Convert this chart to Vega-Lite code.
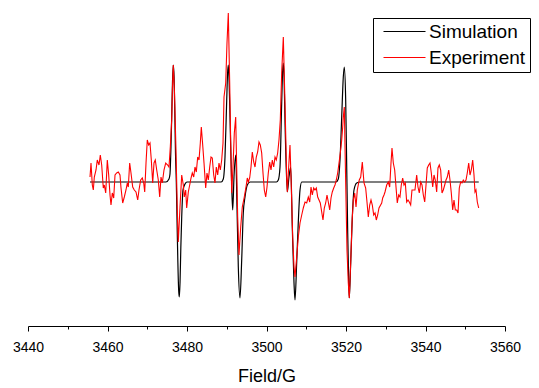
{
  "$schema": "https://vega.github.io/schema/vega-lite/v6.json",
  "autosize": "none",
  "width": 477,
  "height": 326,
  "padding": {"left": 28, "top": 0, "right": 34, "bottom": 62},
  "background": "white",
  "config": {
    "view": {"stroke": null},
    "font": "Liberation Sans",
    "axis": {"domainColor": "black", "tickColor": "black", "labelColor": "black", "titleColor": "black", "grid": false}
  },
  "datasets": {
    "sim": [
      {"field": 3455.6, "signal": 0}, {"field": 3474.7, "signal": 0}, {"field": 3475.47, "signal": 3}, {"field": 3475.72, "signal": 8},
      {"field": 3475.97, "signal": 35}, {"field": 3476.15, "signal": 65}, {"field": 3476.35, "signal": 100}, {"field": 3476.55, "signal": 117},
      {"field": 3476.75, "signal": 105}, {"field": 3476.95, "signal": 65}, {"field": 3477.1, "signal": 30}, {"field": 3477.31, "signal": 0},
      {"field": 3477.5, "signal": -40}, {"field": 3477.7, "signal": -80}, {"field": 3477.9, "signal": -108}, {"field": 3478.06, "signal": -115},
      {"field": 3478.25, "signal": -100}, {"field": 3478.45, "signal": -65}, {"field": 3478.67, "signal": -35}, {"field": 3478.99, "signal": -8},
      {"field": 3479.5, "signal": -2}, {"field": 3480.0, "signal": 0},
      {"field": 3488.6, "signal": 0}, {"field": 3489.13, "signal": 3}, {"field": 3489.56, "signal": 25}, {"field": 3489.99, "signal": 82},
      {"field": 3490.2, "signal": 108}, {"field": 3490.39, "signal": 117}, {"field": 3490.6, "signal": 100}, {"field": 3490.82, "signal": 65},
      {"field": 3491.25, "signal": -5}, {"field": 3491.5, "signal": -28}, {"field": 3491.82, "signal": 5}, {"field": 3492.25, "signal": 27},
      {"field": 3492.58, "signal": -25}, {"field": 3492.91, "signal": -85}, {"field": 3493.33, "signal": -116}, {"field": 3493.76, "signal": -78},
      {"field": 3494.16, "signal": -31}, {"field": 3494.59, "signal": -15}, {"field": 3495.17, "signal": -3}, {"field": 3495.85, "signal": 0},
      {"field": 3502.5, "signal": 0}, {"field": 3502.97, "signal": 2}, {"field": 3503.4, "signal": 15}, {"field": 3503.82, "signal": 79},
      {"field": 3504.05, "signal": 110}, {"field": 3504.23, "signal": 119}, {"field": 3504.42, "signal": 105}, {"field": 3504.65, "signal": 62},
      {"field": 3505.23, "signal": -10}, {"field": 3505.66, "signal": 5}, {"field": 3506.09, "signal": 15}, {"field": 3506.49, "signal": -45},
      {"field": 3506.92, "signal": -101}, {"field": 3507.17, "signal": -118}, {"field": 3507.6, "signal": -80}, {"field": 3508.0, "signal": -40},
      {"field": 3508.43, "signal": -8}, {"field": 3508.86, "signal": 0},
      {"field": 3517.5, "signal": 0}, {"field": 3518.06, "signal": 3}, {"field": 3518.49, "signal": 22}, {"field": 3518.92, "signal": 65},
      {"field": 3519.32, "signal": 105}, {"field": 3519.57, "signal": 115}, {"field": 3519.92, "signal": 82}, {"field": 3520.18, "signal": 15},
      {"field": 3520.43, "signal": -51}, {"field": 3520.68, "signal": -101}, {"field": 3520.83, "signal": -116}, {"field": 3521.18, "signal": -81},
      {"field": 3521.59, "signal": -35}, {"field": 3522.01, "signal": -8}, {"field": 3522.69, "signal": -1}, {"field": 3523.52, "signal": 0},
      {"field": 3553.4, "signal": 0}
    ],
    "exp": [
      {"field": 3455.6, "signal": 5}, {"field": 3455.85, "signal": 19}, {"field": 3456.18, "signal": -3}, {"field": 3456.43, "signal": -8},
      {"field": 3456.68, "signal": 5}, {"field": 3457.11, "signal": 12}, {"field": 3457.43, "signal": 22}, {"field": 3457.86, "signal": 17},
      {"field": 3458.19, "signal": 27}, {"field": 3458.54, "signal": 17}, {"field": 3458.94, "signal": -6}, {"field": 3459.19, "signal": -3},
      {"field": 3459.55, "signal": -11}, {"field": 3459.95, "signal": 22}, {"field": 3460.3, "signal": 7}, {"field": 3460.63, "signal": -13},
      {"field": 3460.88, "signal": -23}, {"field": 3461.21, "signal": -11}, {"field": 3461.56, "signal": -16}, {"field": 3461.89, "signal": 7},
      {"field": 3462.31, "signal": 9}, {"field": 3462.72, "signal": 10}, {"field": 3463.14, "signal": 7}, {"field": 3463.4, "signal": -6},
      {"field": 3463.82, "signal": -21}, {"field": 3464.23, "signal": -15}, {"field": 3464.65, "signal": -8}, {"field": 3464.98, "signal": -1},
      {"field": 3465.23, "signal": -5}, {"field": 3465.58, "signal": 19}, {"field": 3465.91, "signal": 9}, {"field": 3466.34, "signal": -5},
      {"field": 3466.74, "signal": -8}, {"field": 3467.17, "signal": -10}, {"field": 3467.6, "signal": -18}, {"field": 3467.92, "signal": -8},
      {"field": 3468.35, "signal": 2}, {"field": 3468.75, "signal": 4}, {"field": 3469.11, "signal": -1}, {"field": 3469.36, "signal": -10},
      {"field": 3469.69, "signal": 19}, {"field": 3470.01, "signal": 42}, {"field": 3470.36, "signal": 37}, {"field": 3470.69, "signal": 39},
      {"field": 3471.02, "signal": 22}, {"field": 3471.37, "signal": -1}, {"field": 3471.7, "signal": 19}, {"field": 3472.02, "signal": 22},
      {"field": 3472.38, "signal": 12}, {"field": 3472.78, "signal": 2}, {"field": 3473.13, "signal": -15}, {"field": 3473.46, "signal": 5},
      {"field": 3473.79, "signal": -1}, {"field": 3474.21, "signal": 12}, {"field": 3474.64, "signal": 19}, {"field": 3475.14, "signal": 17},
      {"field": 3475.47, "signal": 15}, {"field": 3475.8, "signal": 35}, {"field": 3476.15, "signal": 62}, {"field": 3476.35, "signal": 95},
      {"field": 3476.55, "signal": 117}, {"field": 3476.85, "signal": 90}, {"field": 3477.23, "signal": 32}, {"field": 3477.56, "signal": -28},
      {"field": 3477.81, "signal": -60}, {"field": 3478.24, "signal": -25}, {"field": 3478.67, "signal": 7}, {"field": 3479.07, "signal": -3},
      {"field": 3479.32, "signal": -15}, {"field": 3479.67, "signal": -8}, {"field": 3479.92, "signal": -26}, {"field": 3480.33, "signal": -10},
      {"field": 3480.68, "signal": -3}, {"field": 3481.01, "signal": 4}, {"field": 3481.33, "signal": 9}, {"field": 3481.69, "signal": 5},
      {"field": 3482.01, "signal": 15}, {"field": 3482.34, "signal": 10}, {"field": 3482.69, "signal": 25}, {"field": 3483.02, "signal": 22},
      {"field": 3483.35, "signal": 39}, {"field": 3483.6, "signal": 55}, {"field": 3483.95, "signal": 37}, {"field": 3484.28, "signal": 19},
      {"field": 3484.7, "signal": -6}, {"field": 3485.03, "signal": 9}, {"field": 3485.36, "signal": 2}, {"field": 3485.71, "signal": 15},
      {"field": 3486.04, "signal": 25}, {"field": 3486.36, "signal": 24}, {"field": 3486.72, "signal": 7}, {"field": 3487.04, "signal": -1},
      {"field": 3487.37, "signal": 15}, {"field": 3487.72, "signal": 7}, {"field": 3488.05, "signal": 19}, {"field": 3488.38, "signal": 12},
      {"field": 3488.73, "signal": 22}, {"field": 3489.06, "signal": 39}, {"field": 3489.31, "signal": 85}, {"field": 3489.74, "signal": 99},
      {"field": 3490.06, "signal": 139}, {"field": 3490.39, "signal": 169}, {"field": 3490.74, "signal": 99}, {"field": 3491.07, "signal": 22},
      {"field": 3491.24, "signal": -11}, {"field": 3491.57, "signal": 15}, {"field": 3491.9, "signal": 49}, {"field": 3492.25, "signal": 65},
      {"field": 3492.5, "signal": 15}, {"field": 3492.75, "signal": -35}, {"field": 3493.08, "signal": -73}, {"field": 3493.51, "signal": -45},
      {"field": 3493.91, "signal": -25}, {"field": 3494.41, "signal": -15}, {"field": 3494.84, "signal": -5}, {"field": 3495.17, "signal": 4},
      {"field": 3495.42, "signal": 0}, {"field": 3495.77, "signal": 4}, {"field": 3496.1, "signal": 15}, {"field": 3496.43, "signal": 30},
      {"field": 3496.78, "signal": 20}, {"field": 3497.11, "signal": 15}, {"field": 3497.43, "signal": 25}, {"field": 3497.78, "signal": 30},
      {"field": 3498.11, "signal": 40}, {"field": 3498.44, "signal": 37}, {"field": 3498.79, "signal": 29}, {"field": 3499.12, "signal": 9},
      {"field": 3499.45, "signal": -8}, {"field": 3499.8, "signal": -15}, {"field": 3500.13, "signal": -5}, {"field": 3500.45, "signal": 9},
      {"field": 3500.8, "signal": 20}, {"field": 3501.13, "signal": 12}, {"field": 3501.46, "signal": 22}, {"field": 3501.81, "signal": 15},
      {"field": 3502.14, "signal": 25}, {"field": 3502.46, "signal": 22}, {"field": 3502.81, "signal": 29}, {"field": 3503.14, "signal": 42},
      {"field": 3503.47, "signal": 62}, {"field": 3503.82, "signal": 109}, {"field": 3504.23, "signal": 145}, {"field": 3504.65, "signal": 79},
      {"field": 3505.08, "signal": 5}, {"field": 3505.23, "signal": -10}, {"field": 3505.58, "signal": 15}, {"field": 3505.91, "signal": 37},
      {"field": 3506.24, "signal": -5}, {"field": 3506.59, "signal": -55}, {"field": 3506.92, "signal": -85}, {"field": 3507.17, "signal": -95},
      {"field": 3507.6, "signal": -75}, {"field": 3508.0, "signal": -55}, {"field": 3508.43, "signal": -41}, {"field": 3508.86, "signal": -33},
      {"field": 3509.26, "signal": -26}, {"field": 3509.69, "signal": -20}, {"field": 3510.11, "signal": -21}, {"field": 3510.52, "signal": -15},
      {"field": 3510.87, "signal": -20}, {"field": 3511.2, "signal": -5}, {"field": 3511.52, "signal": -13}, {"field": 3511.87, "signal": -6},
      {"field": 3512.2, "signal": -8}, {"field": 3512.53, "signal": -6}, {"field": 3512.88, "signal": -15}, {"field": 3513.21, "signal": -18},
      {"field": 3513.53, "signal": -21}, {"field": 3513.89, "signal": -30}, {"field": 3514.21, "signal": -38}, {"field": 3514.54, "signal": -26},
      {"field": 3514.89, "signal": -21}, {"field": 3515.22, "signal": -13}, {"field": 3515.55, "signal": -20}, {"field": 3515.9, "signal": -28},
      {"field": 3516.23, "signal": -16}, {"field": 3516.55, "signal": -10}, {"field": 3516.91, "signal": -6}, {"field": 3517.23, "signal": -3},
      {"field": 3517.56, "signal": 2}, {"field": 3517.91, "signal": 9}, {"field": 3518.24, "signal": 19}, {"field": 3518.57, "signal": 29},
      {"field": 3518.92, "signal": 42}, {"field": 3519.17, "signal": 55}, {"field": 3519.32, "signal": 65}, {"field": 3519.57, "signal": 75},
      {"field": 3519.92, "signal": -1}, {"field": 3520.25, "signal": -68}, {"field": 3520.58, "signal": -101}, {"field": 3520.83, "signal": -116},
      {"field": 3521.18, "signal": -81}, {"field": 3521.51, "signal": -41}, {"field": 3521.84, "signal": -18}, {"field": 3522.19, "signal": -11},
      {"field": 3522.52, "signal": -25}, {"field": 3522.84, "signal": -8}, {"field": 3523.34, "signal": 2}, {"field": 3523.7, "signal": 5},
      {"field": 3524.1, "signal": 20}, {"field": 3524.53, "signal": -1}, {"field": 3524.95, "signal": -6}, {"field": 3525.28, "signal": -20},
      {"field": 3525.61, "signal": -35}, {"field": 3525.96, "signal": -23}, {"field": 3526.29, "signal": -18}, {"field": 3526.62, "signal": -23},
      {"field": 3526.97, "signal": -33}, {"field": 3527.3, "signal": -31}, {"field": 3527.62, "signal": -38}, {"field": 3527.97, "signal": -33},
      {"field": 3528.3, "signal": -26}, {"field": 3528.98, "signal": -21}, {"field": 3529.23, "signal": -16}, {"field": 3529.56, "signal": -13},
      {"field": 3529.81, "signal": -10}, {"field": 3530.24, "signal": -3}, {"field": 3530.64, "signal": 0}, {"field": 3530.99, "signal": -5},
      {"field": 3531.32, "signal": 19}, {"field": 3531.57, "signal": 34}, {"field": 3531.9, "signal": 19}, {"field": 3532.25, "signal": 12},
      {"field": 3532.58, "signal": -5}, {"field": 3532.9, "signal": -21}, {"field": 3533.26, "signal": -13}, {"field": 3533.58, "signal": -15},
      {"field": 3533.91, "signal": -3}, {"field": 3534.26, "signal": 4}, {"field": 3534.59, "signal": -3}, {"field": 3534.92, "signal": -1},
      {"field": 3535.27, "signal": -20}, {"field": 3535.6, "signal": -18}, {"field": 3535.92, "signal": -20}, {"field": 3536.27, "signal": -23},
      {"field": 3536.6, "signal": -8}, {"field": 3536.93, "signal": -8}, {"field": 3537.35, "signal": -8}, {"field": 3537.78, "signal": 7},
      {"field": 3538.11, "signal": -5}, {"field": 3538.44, "signal": -11}, {"field": 3538.79, "signal": 0}, {"field": 3539.12, "signal": -3},
      {"field": 3539.45, "signal": -13}, {"field": 3539.8, "signal": -20}, {"field": 3540.13, "signal": -3}, {"field": 3540.45, "signal": 14},
      {"field": 3540.8, "signal": 17}, {"field": 3541.13, "signal": 19}, {"field": 3541.46, "signal": 9}, {"field": 3541.81, "signal": -5},
      {"field": 3542.14, "signal": 7}, {"field": 3542.46, "signal": 2}, {"field": 3542.81, "signal": -10}, {"field": 3543.14, "signal": 14},
      {"field": 3543.47, "signal": 17}, {"field": 3543.82, "signal": 12}, {"field": 3544.15, "signal": -11}, {"field": 3544.48, "signal": -8},
      {"field": 3544.83, "signal": -3}, {"field": 3545.16, "signal": 2}, {"field": 3545.48, "signal": 5}, {"field": 3545.84, "signal": 12},
      {"field": 3546.16, "signal": 2}, {"field": 3546.49, "signal": -11}, {"field": 3546.84, "signal": -28}, {"field": 3547.17, "signal": -18},
      {"field": 3547.5, "signal": -28}, {"field": 3547.85, "signal": -28}, {"field": 3548.18, "signal": -31}, {"field": 3548.5, "signal": -6},
      {"field": 3548.85, "signal": 0}, {"field": 3549.18, "signal": -1}, {"field": 3549.51, "signal": 2}, {"field": 3549.86, "signal": 0},
      {"field": 3550.19, "signal": 2}, {"field": 3550.51, "signal": 9}, {"field": 3550.87, "signal": 19}, {"field": 3551.19, "signal": 7},
      {"field": 3551.52, "signal": 12}, {"field": 3551.87, "signal": 22}, {"field": 3552.2, "signal": 7}, {"field": 3552.45, "signal": -10},
      {"field": 3552.7, "signal": -8}, {"field": 3553.03, "signal": -20}, {"field": 3553.38, "signal": -26}
    ]
  },
  "encoding": {
    "x": {
      "field": "field", "type": "quantitative",
      "scale": {"domain": [3440, 3560], "nice": false, "zero": false},
      "axis": {
        "title": "Field/G",
        "values": [3440, 3450, 3460, 3470, 3480, 3490, 3500, 3510, 3520, 3530, 3540, 3550, 3560],
        "format": "d",
        "labelExpr": "datum.value % 20 === 0 ? datum.label : ''",
        "tickSize": {"condition": {"test": "datum.value % 20 === 0", "value": 5}, "value": 3},
        "tickWidth": 1,
        "domainWidth": 1,
        "labelFontSize": 14,
        "labelPadding": 9,
        "labelFlush": false,
        "labelOverlap": false,
        "labelBound": false,
        "titleFontSize": 18,
        "titleFontWeight": "normal",
        "titlePadding": 13
      }
    },
    "y": {
      "field": "signal", "type": "quantitative",
      "scale": {"domain": [-144, 182], "nice": false, "zero": false},
      "axis": null
    },
    "color": {
      "field": "series", "type": "nominal",
      "scale": {"domain": ["Simulation", "Experiment"], "range": ["#000000", "#ff0000"]},
      "legend": {
        "title": null,
        "orient": "none",
        "legendX": 345,
        "legendY": 18,
        "direction": "vertical",
        "symbolType": "M-1,0H5",
        "symbolSize": 196,
        "symbolStrokeWidth": 1.2,
        "symbolOffset": 4,
        "labelFontSize": 19,
        "labelColor": "black",
        "labelOffset": 29,
        "rowPadding": 6,
        "padding": 4,
        "strokeColor": "black",
        "fillColor": "white",
        "offset": 0
      }
    }
  },
  "layer": [
    {
      "data": {"name": "sim"},
      "mark": {"type": "line", "strokeWidth": 1.2, "interpolate": "monotone"},
      "encoding": {"color": {"datum": "Simulation"}}
    },
    {
      "data": {"name": "exp"},
      "mark": {"type": "line", "strokeWidth": 1.1},
      "encoding": {"color": {"datum": "Experiment"}}
    }
  ]
}
